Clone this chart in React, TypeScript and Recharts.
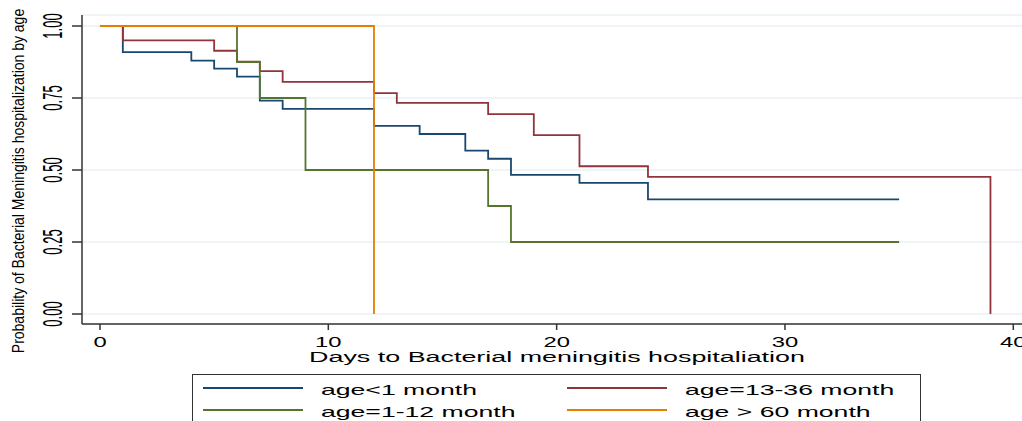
import { LineChart, Line, XAxis, YAxis, CartesianGrid, Legend, Label } from "recharts";

// Kaplan-Meier steps
const lt1Days = [0, 1, 4, 5, 6, 7, 8, 12, 14, 16, 17, 18, 21, 24, 35];
const lt1Surv = [1, 0.909, 0.88, 0.852, 0.824, 0.741, 0.712, 0.653, 0.625, 0.567, 0.539, 0.483, 0.455, 0.398, 0.398];

const m13Days = [0, 1, 5, 6, 7, 8, 12, 13, 17, 19, 21, 24, 39];
const m13Surv = [1, 0.95, 0.914, 0.876, 0.843, 0.806, 0.767, 0.733, 0.694, 0.621, 0.513, 0.476, 0];

const m1Days = [0, 6, 7, 9, 17, 18, 35];
const m1Surv = [1, 0.875, 0.75, 0.5, 0.375, 0.25, 0.25];

const gt60Days = [0, 12];
const gt60Surv = [1, 0];

const xTicks = [0, 10, 20, 30, 40];
const yTicks = [0, 0.25, 0.5, 0.75, 1];

const seriesNames = ["age<1 month", "age=13-36 month", "age=1-12 month", "age > 60 month"];
const seriesColors = ["#1a476f", "#90353b", "#55752f", "#e37e00"];

const FONT = "'Liberation Sans', Arial, sans-serif";

const toRows = (days: number[], surv: number[]) => days.map((d, i) => ({ day: d, surv: surv[i] }));

const series = [
  toRows(lt1Days, lt1Surv),
  toRows(m13Days, m13Surv),
  toRows(m1Days, m1Surv),
  toRows(gt60Days, gt60Surv),
];

const XTick = ({ x, y, payload }: any) => (
  <text transform={`translate(${x},${y + 15}) scale(1.7,1)`} textAnchor="middle" fontSize={14} fontFamily={FONT} fill="#000">
    {payload.value}
  </text>
);

const YTick = ({ x, y, payload }: any) => (
  <text transform={`translate(${x - 8},${y}) scale(2.15,1) rotate(-90)`} textAnchor="middle" fontSize={13} fontFamily={FONT} fill="#000">
    {Number(payload.value).toFixed(2)}
  </text>
);

const renderLegend = () => {
  // 2 columns, filled row by row like Stata
  const cols = [0, 364];
  const rows = [14, 36];
  return (
    <svg width={740} height={60} style={{ display: "block" }}>
      <rect x={0.5} y={0.5} width={728} height={70} fill="#fff" stroke="#333" strokeWidth={1} />
      {seriesNames.map((name, i) => {
        const cx = cols[i % 2];
        const cy = rows[Math.floor(i / 2)];
        return (
          <g key={name}>
            <line x1={cx + 11} x2={cx + 111} y1={cy} y2={cy} stroke={seriesColors[i]} strokeWidth={1.8} />
            <text transform={`translate(${cx + 129},${cy + 7}) scale(1.9,1)`} fontSize={14} fontFamily={FONT} fill="#000">
              {name}
            </text>
          </g>
        );
      })}
    </svg>
  );
};

export default function App() {
  return (
    <div style={{ position: "absolute", left: 0, top: 0, width: 1022, height: 421, overflow: "hidden", background: "#fff" }}>
      <LineChart width={1040} height={421} margin={{ top: 15, right: 0, left: 0, bottom: 67 }}>
        <CartesianGrid horizontal vertical={false} stroke="#eaf2f3" strokeWidth={1.5} />
        <XAxis
          type="number"
          dataKey="day"
          domain={[-0.788, 41.17]}
          allowDataOverflow
          ticks={xTicks}
          tick={<XTick />}
          tickSize={6}
          tickMargin={2}
          height={30}
          stroke="#333"
          strokeWidth={1.5}
        >
          <Label
            content={() => (
              <text transform="translate(557,362) scale(1.92,1)" textAnchor="middle" fontSize={14} fontFamily={FONT} fill="#000">
                Days to Bacterial meningitis hospitaliation
              </text>
            )}
          />
        </XAxis>
        <YAxis
          type="number"
          dataKey="surv"
          domain={[-0.0347, 1.0382]}
          allowDataOverflow
          ticks={yTicks}
          tick={<YTick />}
          tickSize={10}
          tickMargin={2}
          width={82}
          stroke="#333"
          strokeWidth={1.5}
        >
          <Label
            content={() => (
              <text transform="translate(24,181) scale(1.17,1) rotate(-90)" textAnchor="middle" fontSize={14} fontFamily={FONT} fill="#000">
                Probability of Bacterial Meningitis hospitalization by age
              </text>
            )}
          />
        </YAxis>
        {series.map((rows, i) => (
          <Line
            key={seriesNames[i]}
            name={seriesNames[i]}
            data={rows}
            dataKey="surv"
            type="stepAfter"
            stroke={seriesColors[i]}
            strokeWidth={1.8}
            dot={false}
            activeDot={false}
            isAnimationActive={false}
          />
        ))}
        <Legend
          layout="horizontal"
          verticalAlign="middle"
          content={renderLegend}
          wrapperStyle={{ position: "absolute", left: 192, top: 374, width: 740, height: 60 }}
        />
      </LineChart>
    </div>
  );
}
